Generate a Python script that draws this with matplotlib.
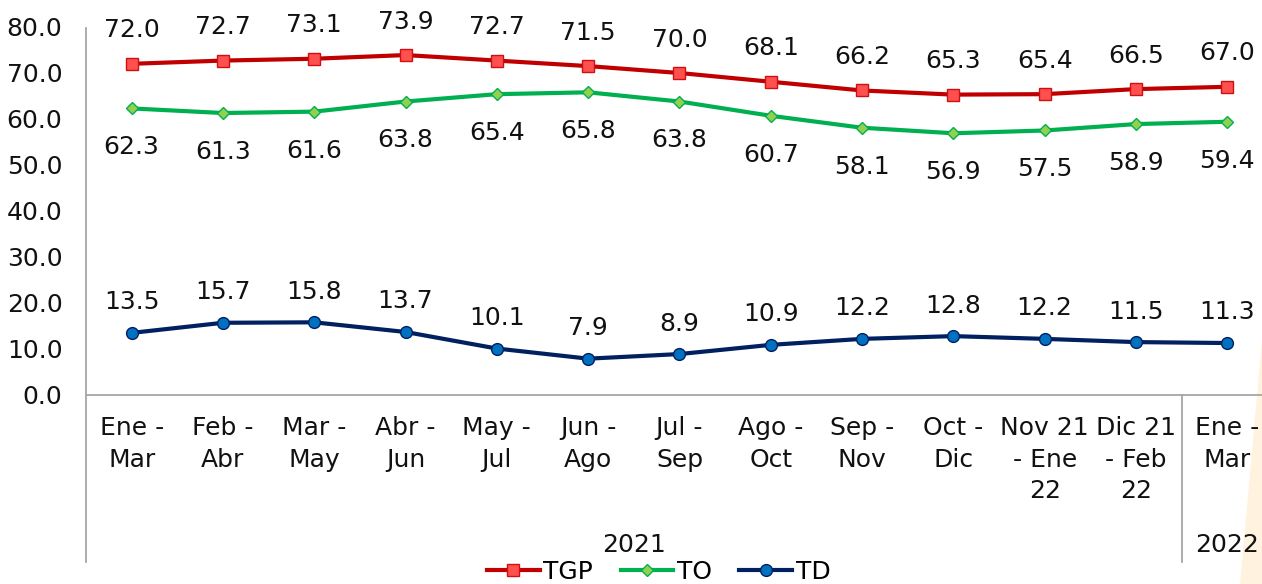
import matplotlib.pyplot as plt
from matplotlib.lines import Line2D
from matplotlib.patches import Polygon
import matplotlib.transforms as mtransforms

plt.rcParams['font.family'] = ['DejaVu Sans']

periods = ["Ene -\nMar", "Feb -\nAbr", "Mar -\nMay", "Abr -\nJun", "May -\nJul",
           "Jun -\nAgo", "Jul -\nSep", "Ago -\nOct", "Sep -\nNov", "Oct -\nDic",
           "Nov 21\n- Ene\n22", "Dic 21\n- Feb\n22", "Ene -\nMar"]
years = ["2021", "2022"]
year_counts = [12, 1]

tgp = [72.0, 72.7, 73.1, 73.9, 72.7, 71.5, 70.0, 68.1, 66.2, 65.3, 65.4, 66.5, 67.0]
to = [62.3, 61.3, 61.6, 63.8, 65.4, 65.8, 63.8, 60.7, 58.1, 56.9, 57.5, 58.9, 59.4]
td = [13.5, 15.7, 15.8, 13.7, 10.1, 7.9, 8.9, 10.9, 12.2, 12.8, 12.2, 11.5, 11.3]

W, H = 1262, 584
fig = plt.figure(figsize=(W / 100, H / 100), dpi=100)

# faint decorative wedge on the right edge
fig.add_artist(Polygon([(1262 / W, 1 - 340 / H), (1, 0), (1240 / W, 0)],
                       closed=True, transform=fig.transFigure,
                       facecolor='#FFF3E0', edgecolor='none', zorder=0))

left_px, right_px = 86, 86 + 13 * 91.3
top_px, bot_px = 27, 395
ax = fig.add_axes([left_px / W, 1 - bot_px / H, (right_px - left_px) / W, (bot_px - top_px) / H])
ax.patch.set_alpha(0)

x = list(range(len(periods)))
ax.plot(x, tgp, color='#C00000', lw=3, marker='s', ms=8.5,
        mfc='#FF5050', mec='#D01010', mew=1, label='TGP', zorder=3)
ax.plot(x, to, color='#00B050', lw=3, marker='D', ms=6.5,
        mfc='#92D050', mec='#00B050', mew=1, label='TO', zorder=3)
ax.plot(x, td, color='#002060', lw=3, marker='o', ms=8.5,
        mfc='#0070C0', mec='#002060', mew=1, label='TD', zorder=3)

fs = 18
for i in x:
    ax.annotate(f"{tgp[i]:.1f}", (i, tgp[i]), xytext=(0, 24), textcoords='offset points',
                ha='center', va='center', fontsize=fs, color='#111111')
    ax.annotate(f"{to[i]:.1f}", (i, to[i]), xytext=(0, -28), textcoords='offset points',
                ha='center', va='center', fontsize=fs, color='#111111')
    ax.annotate(f"{td[i]:.1f}", (i, td[i]), xytext=(0, 22), textcoords='offset points',
                ha='center', va='center', fontsize=fs, color='#111111')

ax.set_xlim(-0.5, len(periods) - 0.5)
ax.set_ylim(0, 80)
ax.set_yticks(range(0, 81, 10))
ax.set_yticklabels([f"{v:.1f}" for v in range(0, 81, 10)], fontsize=fs, color='#111111')
ax.tick_params(axis='y', length=0, pad=17)
ax.set_xticks([])
for s in ['top', 'right', 'left']:
    ax.spines[s].set_visible(False)
ax.spines['bottom'].set_color('#A6A6A6')
ax.spines['bottom'].set_linewidth(1.3)

# category labels
trans = mtransforms.blended_transform_factory(ax.transData, fig.transFigure)
for i, lab in enumerate(periods):
    ax.text(i, 1 - 416 / H, lab, transform=trans, ha='center', va='top',
            fontsize=fs, linespacing=1.4, color='#111111')

# year groups and separators
grey = '#A6A6A6'
fig.add_artist(Line2D([left_px / W, left_px / W], [1 - 562 / H, 1 - 28 / H],
                      color=grey, lw=1.3, transform=fig.transFigure))
start = 0
for yr, n in zip(years, year_counts):
    center = start + (n - 1) / 2
    ax.text(center if n > 1 else start, 1 - 545 / H, yr, transform=trans,
            ha='center', va='center', fontsize=fs, color='#111111')
    start += n
    if start < len(periods):
        ax.add_artist(Line2D([start - 0.5, start - 0.5], [1 - 395 / H, 1 - 562 / H],
                             color=grey, lw=1.3, transform=trans, clip_on=False))

leg = fig.legend(loc='center', bbox_to_anchor=(0.522, 1 - 572 / H), ncol=3,
                 frameon=False, fontsize=fs, handlelength=2.1, handletextpad=0.15,
                 columnspacing=1.1, borderpad=0)

fig.savefig('out.png', dpi=100)
